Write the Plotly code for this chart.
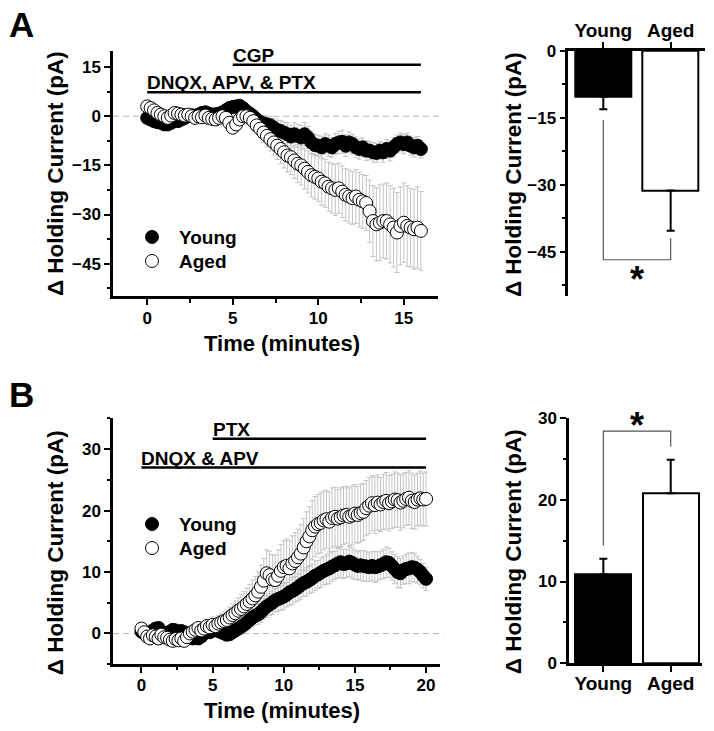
import plotly.graph_objects as go

W = 714
H_FIG = 740      # figure height in px
SCALE = 0.974    # vertical scale observed between figure px and photographed px
OFF = 10         # vertical offset observed in the photograph

# ---------------- data ----------------
# Panel A: time course (minutes), sampled every 0.2 min
time_a = [round(i * 0.2, 1) for i in range(81)]
young_a = [
    -0.5, -1.0, -1.5, -1.8, -2.0, -2.5, -2.5, -2.0, -1.2, -1.5,
    -1.0, -0.5, 0.0, 0.3, -0.2, 0.5, 1.0, 1.2, 0.8, 0.5,
    0.6, 0.8, 1.2, 1.8, 2.5, 2.8, 3.0, 3.2, 2.5, 1.5,
    0.8, 0.0, -1.0, -1.8, -2.2, -2.5, -2.8, -3.5, -4.2, -4.5,
    -5.0, -5.5, -6.2, -5.5, -6.0, -6.5, -5.5, -6.5, -8.0, -8.8,
    -9.0, -9.5, -8.5, -9.0, -9.5, -8.5, -8.0, -7.8, -9.0, -8.0,
    -8.5, -9.5, -10.0, -9.5, -10.5, -10.5, -11.0, -11.2, -10.5, -11.0,
    -10.0, -10.5, -9.5, -8.5, -8.0, -8.5, -8.0, -9.0, -9.5, -9.0,
    -10.0]
young_a_sem = [
    1.0, 1.0, 1.1, 1.0, 1.2, 1.1, 1.0, 1.2, 1.1, 1.0,
    1.0, 1.1, 1.0, 1.2, 1.1, 1.0, 1.1, 1.0, 1.2, 1.1,
    1.2, 1.1, 1.3, 1.2, 1.4, 1.3, 1.5, 1.4, 1.6, 1.5,
    1.8, 1.9, 2.0, 2.2, 2.4, 2.5, 2.6, 2.8, 3.0, 3.2,
    3.3, 3.5, 3.4, 3.6, 3.5, 3.7, 3.6, 3.4, 3.5, 3.3,
    3.2, 3.4, 3.1, 3.3, 3.0, 3.2, 3.4, 3.5, 3.3, 3.2,
    3.0, 3.2, 3.1, 2.9, 3.0, 2.8, 3.0, 2.9, 2.8, 3.0,
    2.9, 3.1, 3.0, 2.8, 2.9, 3.0, 2.8, 2.9, 3.0, 2.8,
    2.7]
aged_a = [
    3.0, 2.5, 1.8, 1.0, 0.5, 0.0, -0.5, 0.2, 1.0, 0.8,
    0.5, 0.2, 0.5, 0.0, -0.5, 0.0, -0.3, 0.2, -0.5, -0.8,
    -1.0, -0.5, 0.0, -0.5, -2.0, -3.5, -2.5, -1.0, 0.0, 0.0,
    -0.5, -1.5, -2.8, -3.8, -5.0, -6.0, -7.0, -8.0, -9.0, -10.0,
    -11.0, -12.0, -12.5, -13.5, -14.5, -15.0, -16.0, -17.0, -18.0, -18.5,
    -19.0, -20.0, -20.5, -21.5, -22.0, -22.5, -22.0, -23.0, -24.0, -24.5,
    -25.0, -24.5, -25.5, -26.0, -26.5, -29.0, -32.0, -33.0, -32.5, -32.0,
    -32.0, -33.0, -34.0, -35.5, -33.5, -32.5, -33.5, -34.0, -34.5, -34.0,
    -35.0]
aged_a_sem = [
    1.2, 1.1, 1.0, 1.2, 1.1, 1.0, 1.2, 1.1, 1.3, 1.2,
    1.1, 1.2, 1.0, 1.1, 1.2, 1.1, 1.3, 1.2, 1.1, 1.2,
    1.3, 1.2, 1.4, 1.3, 1.5, 1.6, 1.5, 1.4, 1.6, 1.7,
    1.9, 2.1, 2.4, 2.7, 3.0, 3.3, 3.6, 3.9, 4.2, 4.5,
    4.8, 5.0, 5.3, 5.5, 5.8, 6.0, 6.2, 6.4, 6.6, 6.8,
    7.0, 7.2, 7.3, 7.5, 7.6, 7.8, 7.7, 7.9, 8.0, 8.1,
    8.0, 8.2, 8.3, 8.2, 8.4, 9.5, 10.8, 11.2, 11.5, 11.3,
    11.6, 11.8, 12.0, 12.2, 11.9, 12.1, 12.3, 12.0, 12.2, 12.4,
    12.0]

# Panel B: time course, sampled every 0.2 min
time_b = [round(i * 0.2, 1) for i in range(101)]
young_b = [
    0.3, 0.0, -0.3, 0.2, 0.5, 0.8, 0.9, 0.3, -0.2, 0.0,
    0.3, 0.6, 0.5, 0.2, 0.4, 0.2, -0.2, -0.5, -0.8, -0.6,
    -0.8, -0.5, 0.0, 0.3, 0.2, 0.5, 0.6, 0.4, 0.2, 0.0,
    -0.2, -0.1, 0.2, 0.5, 0.8, 1.1, 1.4, 1.8, 2.2, 2.6,
    2.9, 3.1, 3.5, 4.0, 4.4, 4.7, 5.0, 5.4, 5.6, 5.8,
    6.0, 6.3, 6.7, 6.9, 7.2, 7.5, 7.9, 8.2, 8.4, 8.7,
    9.0, 9.4, 9.6, 9.9, 10.2, 10.4, 10.6, 10.9, 11.1, 11.4,
    11.6, 11.3, 11.4, 11.7, 11.5, 11.2, 11.0, 11.1, 11.0, 10.9,
    10.8, 11.0, 10.8, 10.9, 11.1, 11.3, 11.6, 11.5, 11.0, 10.5,
    10.0, 9.8, 10.3, 10.5, 10.6, 10.8, 10.7, 10.4, 10.0, 9.4,
    8.9]
young_b_sem = [
    0.6, 0.5, 0.7, 0.6, 0.5, 0.6, 0.7, 0.6, 0.5, 0.6,
    0.7, 0.6, 0.5, 0.6, 0.7, 0.6, 0.5, 0.6, 0.7, 0.6,
    0.6, 0.7, 0.6, 0.5, 0.6, 0.7, 0.6, 0.7, 0.8, 0.7,
    0.8, 0.9, 0.9, 1.0, 1.1, 1.2, 1.2, 1.3, 1.4, 1.5,
    1.5, 1.6, 1.7, 1.7, 1.8, 1.8, 1.9, 1.9, 2.0, 2.0,
    2.1, 2.0, 2.1, 2.2, 2.1, 2.2, 2.3, 2.2, 2.3, 2.2,
    2.3, 2.4, 2.3, 2.4, 2.3, 2.4, 2.5, 2.4, 2.3, 2.4,
    2.5, 2.4, 2.3, 2.4, 2.5, 2.4, 2.3, 2.4, 2.5, 2.4,
    2.3, 2.4, 2.5, 2.4, 2.3, 2.4, 2.5, 2.4, 2.3, 2.4,
    2.5, 2.4, 2.3, 2.4, 2.5, 2.4, 2.3, 2.2, 2.1, 2.0,
    1.9]
aged_b = [
    0.8, 0.2, -0.5, -0.8, -0.3, -0.5, -0.8, -0.2, -0.6, -0.7,
    -1.0, -1.2, -0.9, -1.1, -0.8, -1.2, -0.6, 0.0, 0.3, 0.6,
    0.9, 0.5, 0.8, 1.2, 1.0, 1.4, 1.2, 1.6, 1.8, 2.0,
    2.2, 2.6, 3.0, 3.3, 3.7, 4.0, 4.4, 4.8, 5.2, 5.7,
    6.2, 6.8, 7.6, 8.6, 9.8, 9.5, 8.8, 8.7, 9.4, 10.2,
    10.8, 11.0, 10.6, 11.4, 11.8, 12.4, 13.0, 14.0, 15.0, 15.8,
    16.8, 17.4, 17.8, 18.0, 18.4, 18.6, 18.2, 18.8, 19.0, 18.7,
    18.9, 19.2, 19.3, 19.0, 19.2, 19.5, 19.3, 19.6, 19.8, 20.4,
    20.8, 21.2, 20.9, 21.3, 21.0, 21.4, 21.6, 21.2, 21.5, 21.8,
    21.7, 21.3, 21.6, 21.9, 22.1, 21.6, 21.4, 21.8, 22.0, 21.8,
    21.9]
aged_b_sem = [
    0.8, 0.7, 0.8, 0.9, 0.8, 0.7, 0.8, 0.9, 0.8, 0.9,
    0.8, 0.9, 1.0, 0.9, 0.8, 0.9, 1.0, 0.9, 1.0, 1.1,
    1.0, 1.1, 1.2, 1.1, 1.2, 1.3, 1.2, 1.3, 1.4, 1.5,
    1.6, 1.7, 1.8, 2.0, 2.1, 2.3, 2.4, 2.6, 2.8, 3.0,
    3.1, 3.3, 3.5, 3.6, 3.8, 3.9, 4.0, 4.1, 4.2, 4.3,
    4.3, 4.4, 4.5, 4.5, 4.6, 4.6, 4.7, 4.7, 4.8, 4.8,
    4.8, 4.9, 4.8, 4.9, 4.8, 4.7, 4.8, 4.9, 4.8, 4.7,
    4.8, 4.7, 4.6, 4.7, 4.8, 4.7, 4.6, 4.7, 4.6, 4.5,
    4.6, 4.5, 4.6, 4.5, 4.4, 4.5, 4.6, 4.5, 4.4, 4.5,
    4.4, 4.5, 4.4, 4.3, 4.4, 4.5, 4.4, 4.3, 4.4, 4.3,
    4.4]

# Drug application bars
drug_a_labels = ["CGP", "DNQX, APV, & PTX"]
drug_a_start = [5, 0]
drug_a_end = [16, 16]
drug_a_level = [15.7, 7.3]
drug_b_labels = ["PTX", "DNQX & APV"]
drug_b_start = [5, 0]
drug_b_end = [20, 20]
drug_b_level = [31.7, 27.0]

# Summary bars
groups = ["Young", "Aged"]
bar_a_mean = [-10.3, -31.3]
bar_a_sem = [2.8, 9.0]
bar_b_mean = [10.9, 20.8]
bar_b_sem = [1.9, 4.1]
bracket_a_y = [-15.5, -46.8, -46.8, -42.0]
bracket_b_y = [14.4, 28.4, 28.4, 26.5]
star_a_y = -50.2
star_b_y = 29.7

# ---------------- figure ----------------
FONT = "Liberation Sans, Arial, sans-serif"
ERR_GRAY = "#c4c4c4"


def px(x):
    return x / W


def py(y):
    return 1 - ((y - OFF) / SCALE) / H_FIG


def bold(size):
    return dict(size=size, family=FONT, color="black", weight="bold")


fig = go.Figure()

# error bars (drawn first, behind markers)
for t, v, s, xa, ya in [(time_a, young_a, young_a_sem, "x", "y"),
                        (time_a, aged_a, aged_a_sem, "x", "y"),
                        (time_b, young_b, young_b_sem, "x3", "y3"),
                        (time_b, aged_b, aged_b_sem, "x3", "y3")]:
    fig.add_trace(go.Scatter(
        x=t, y=v, mode="markers", xaxis=xa, yaxis=ya, showlegend=False,
        marker=dict(size=1, color="rgba(0,0,0,0)"), hoverinfo="skip",
        error_y=dict(type="data", array=s, color=ERR_GRAY, thickness=1, width=2.5)))

# markers (one legend per entry so each entry can be placed like the original)
for t, v, name, fill, xa, ya, lg in [
        (time_a, young_a, "Young", "black", "x", "y", "legend"),
        (time_a, aged_a, "Aged", "white", "x", "y", "legend2"),
        (time_b, young_b, "Young", "black", "x3", "y3", "legend3"),
        (time_b, aged_b, "Aged", "white", "x3", "y3", "legend4")]:
    fig.add_trace(go.Scatter(
        x=t, y=v, mode="markers", name=name, xaxis=xa, yaxis=ya, legend=lg,
        marker=dict(size=13, color=fill, line=dict(color="black", width=1))))

# summary bars
for means, sems, xa, ya, neg in [(bar_a_mean, bar_a_sem, "x2", "y2", True),
                                 (bar_b_mean, bar_b_sem, "x4", "y4", False)]:
    err = dict(type="data", symmetric=False, color="black", thickness=2, width=4)
    if neg:
        err.update(array=[0, 0], arrayminus=sems)
    else:
        err.update(array=sems, arrayminus=[0, 0])
    fig.add_trace(go.Bar(
        x=groups, y=means, xaxis=xa, yaxis=ya, width=0.83, showlegend=False,
        marker=dict(color=["black", "white"], line=dict(color="black", width=2)),
        error_y=err))

# significance brackets
for by, xa, ya in [(bracket_a_y, "x2", "y2"), (bracket_b_y, "x4", "y4")]:
    fig.add_trace(go.Scatter(
        x=[groups[0], groups[0], groups[1], groups[1]], y=by, mode="lines",
        xaxis=xa, yaxis=ya, showlegend=False, cliponaxis=False,
        line=dict(color="#555555", width=1.2)))

shapes = []
annotations = []

# dashed zero lines
for xa, ya in [("x", "y"), ("x3", "y3")]:
    shapes.append(dict(type="line", xref=xa + " domain", yref=ya, x0=0, x1=1.01,
                       y0=0, y1=0, layer="below",
                       line=dict(color="#b8b8b8", width=1.2, dash="6px,4px")))

# drug bars
for labels, st, en, lev, xa, ya in [
        (drug_a_labels, drug_a_start, drug_a_end, drug_a_level, "x", "y"),
        (drug_b_labels, drug_b_start, drug_b_end, drug_b_level, "x3", "y3")]:
    for lab, s, e, l in zip(labels, st, en, lev):
        shapes.append(dict(type="line", xref=xa, yref=ya, x0=s, x1=e, y0=l, y1=l,
                           line=dict(color="black", width=2.5)))
        annotations.append(dict(xref=xa, yref=ya, x=s, y=l, text=lab, showarrow=False,
                                xanchor="left", yanchor="bottom", yshift=-3, xshift=-2,
                                font=bold(19)))

# asterisks
annotations.append(dict(xref="x2", yref="y2", x=0.5, y=star_a_y, text="*", showarrow=False,
                        yshift=-5, font=bold(36)))
annotations.append(dict(xref="x4", yref="y4", x=0.5, y=star_b_y, text="*", showarrow=False,
                        yshift=-5, font=bold(36)))

# panel letters
for letter, (lx, ly) in [("A", (21, 25)), ("B", (21, 395))]:
    annotations.append(dict(xref="paper", yref="paper", x=px(lx), y=py(ly), text=letter,
                            showarrow=False, xanchor="center", yanchor="middle",
                            font=bold(35)))

# axis titles
ytitle = "\u0394 Holding Current (pA)"
for (tx, ty) in [(55, 175), (513, 176), (55, 554), (513, 553)]:
    annotations.append(dict(xref="paper", yref="paper", x=px(tx), y=py(ty), text=ytitle,
                            textangle=-90, showarrow=False, xanchor="center", yanchor="middle",
                            font=bold(22.5)))
for (tx, ty) in [(282, 344), (282, 711)]:
    annotations.append(dict(xref="paper", yref="paper", x=px(tx), y=py(ty), text="Time (minutes)",
                            showarrow=False, xanchor="center", yanchor="middle",
                            font=bold(22)))

axis_common = dict(showline=True, linecolor="black", linewidth=2.5, ticks="outside",
                   ticklen=6, tickwidth=2, tickcolor="black", showgrid=False, zeroline=False,
                   tickfont=bold(17))
minor_common = dict(ticks="outside", ticklen=3.5, tickwidth=2, tickcolor="black", tick0=0)


def legend_at(x, y):
    return dict(x=px(x), y=py(y), xanchor="left", yanchor="middle",
                bgcolor="rgba(0,0,0,0)", itemwidth=44, font=bold(19))


fig.update_layout(
    width=W, height=H_FIG, margin=dict(l=0, r=0, t=0, b=0),
    plot_bgcolor="white", paper_bgcolor="white",
    font=dict(family=FONT, color="black"),
    bargap=0, shapes=shapes, annotations=annotations,
    xaxis=dict(domain=[px(113), px(438)], anchor="y", range=[-2, 17], dtick=5, tick0=0,
               ticklabelstandoff=-2,
               minor=dict(dtick=2.5, **minor_common), **axis_common),
    yaxis=dict(domain=[py(297.3), py(51.7)], anchor="x", range=[-55, 20], dtick=15, tick0=0,
               minor=dict(dtick=7.5, **minor_common), **axis_common),
    xaxis2=dict(domain=[px(568.3), px(705)], anchor="y2", side="top", type="category",
                range=[-0.52, 1.51], ticklabelstandoff=-3,
                **{**axis_common, "tickfont": bold(19)}),
    yaxis2=dict(domain=[py(297.3), py(51.7)], anchor="x2", range=[-55, 0], dtick=15, tick0=0,
                minor=dict(dtick=7.5, **minor_common), **axis_common),
    xaxis3=dict(domain=[px(113), px(440.3)], anchor="y3", range=[-2, 21], dtick=5, tick0=0,
                ticklabelstandoff=-2,
                minor=dict(dtick=2.5, **minor_common), **axis_common),
    yaxis3=dict(domain=[py(665), py(419.3)], anchor="x3", range=[-5, 35], dtick=10, tick0=0,
                minor=dict(dtick=5, **minor_common), **axis_common),
    xaxis4=dict(domain=[px(569), px(701.7)], anchor="y4", type="category",
                range=[-0.51, 1.46], ticklabelstandoff=-5,
                **{**axis_common, "tickfont": bold(19)}),
    yaxis4=dict(domain=[py(664), py(419)], anchor="x4", range=[0, 30], dtick=10, tick0=0,
                minor=dict(dtick=5, **minor_common), **axis_common),
    legend=legend_at(125, 238),
    legend2=legend_at(125, 262),
    legend3=legend_at(125, 525),
    legend4=legend_at(125, 549),
)

post = ("document.documentElement.style.margin='0';"
        "document.body.style.margin='0';document.body.style.padding='0';"
        "document.body.style.overflow='hidden';")
fig.write_html("out.html", config={"displayModeBar": False}, post_script=post)
